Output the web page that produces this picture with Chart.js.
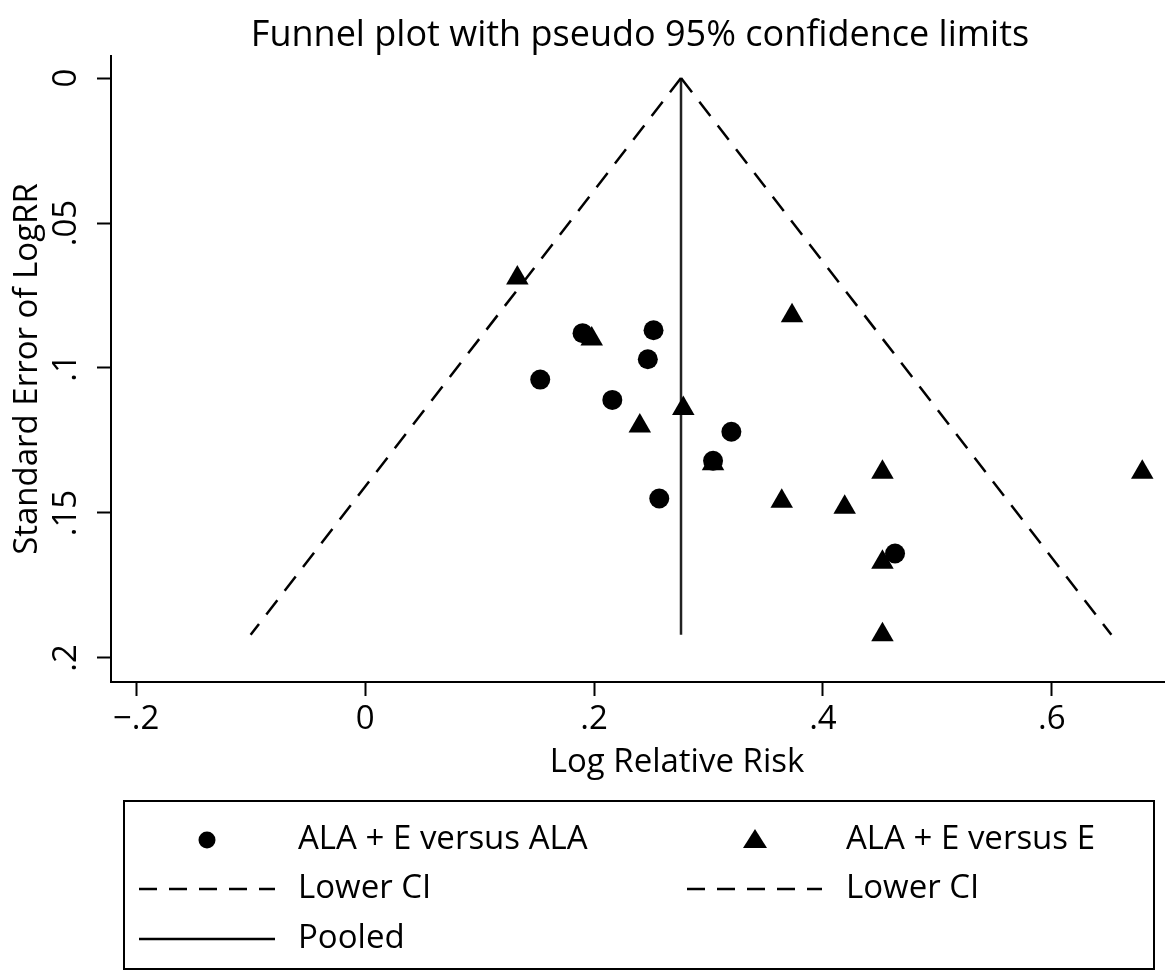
<!DOCTYPE html>
<html>
<head>
<meta charset="utf-8">
<title>Funnel plot</title>
<script src="https://cdn.jsdelivr.net/npm/chart.js@4.4.1/dist/chart.umd.min.js"></script>
<style>
  html, body { margin: 0; padding: 0; background: #fff; overflow: hidden; }
  #wrap { width: 1280px; height: 972px; }
</style>
</head>
<body>
<div id="wrap"><canvas id="funnel" width="1280" height="972"></canvas></div>
<script>
// ALA + E versus ALA (circles)
const circleLogRR = [0.190, 0.252, 0.247, 0.153, 0.216, 0.320, 0.304, 0.257, 0.463];
const circleSE    = [0.088, 0.087, 0.097, 0.104, 0.111, 0.122, 0.132, 0.145, 0.164];

// ALA + E versus E (triangles)
const triLogRR = [0.133, 0.198, 0.373, 0.278, 0.240, 0.304, 0.452, 0.679, 0.364, 0.419, 0.452, 0.452];
const triSE    = [0.069, 0.090, 0.082, 0.114, 0.120, 0.133, 0.136, 0.136, 0.146, 0.148, 0.167, 0.192];

// funnel (pseudo 95% limits) and pooled estimate
const limitSE   = [0, 0.192];
const lowerCIX  = [0.276, -0.100];
const upperCIX  = [0.276, 0.652];
const pooledX   = [0.276, 0.276];

const xTicks = [-0.2, 0, 0.2, 0.4, 0.6];
const yTicks = [0, 0.05, 0.1, 0.15, 0.2];

const FONT = "'Open Sans', 'Noto Sans', sans-serif";
const TITLE = 'Funnel plot with pseudo 95% confidence limits';

const toPoints = (xs, ys) => xs.map((x, i) => ({ x: x, y: ys[i] }));

// stata-style labels: .2, -.2, 0
const stataLabel = v => {
    if (v === 0) return '0';
    const s = String(Math.abs(v)).replace(/^0/, '');
    return (v < 0 ? '\u2212' : '') + s;
};

// graph title is centred on the whole graph, not the plot region
const graphTitle = {
    id: 'graphTitle',
    afterDraw(chart) {
        const ctx = chart.ctx;
        ctx.save();
        ctx.fillStyle = '#000';
        ctx.font = '36px ' + FONT;
        ctx.textAlign = 'center';
        ctx.textBaseline = 'middle';
        ctx.fillText(TITLE, chart.width / 2, 36);
        ctx.restore();
    }
};

// y tick labels are rotated like the original
const rotatedYTicks = {
    id: 'rotatedYTicks',
    afterDraw(chart) {
        const ctx = chart.ctx;
        const y = chart.scales.y;
        ctx.save();
        ctx.fillStyle = '#000';
        ctx.font = '33px ' + FONT;
        ctx.textAlign = 'center';
        ctx.textBaseline = 'middle';
        y.ticks.forEach(t => {
            const py = y.getPixelForValue(t.value);
            ctx.save();
            ctx.translate(67, py);
            ctx.rotate(-Math.PI / 2);
            ctx.fillText(stataLabel(t.value), 0, 0);
            ctx.restore();
        });
        ctx.restore();
    }
};

// boxed legend below the plot, two columns
const boxLegend = {
    id: 'boxLegend',
    afterDraw(chart) {
        const ctx = chart.ctx;
        ctx.save();
        ctx.strokeStyle = '#000';
        ctx.lineWidth = 2;
        ctx.strokeRect(124, 801, 1030, 168);

        ctx.fillStyle = '#000';
        ctx.font = '33px ' + FONT;
        ctx.textAlign = 'left';
        ctx.textBaseline = 'middle';

        const rows = [840, 889, 939];
        // markers
        ctx.beginPath();
        ctx.arc(207, rows[0], 8.5, 0, Math.PI * 2);
        ctx.fill();
        ctx.beginPath();
        ctx.moveTo(755, rows[0] - 11);
        ctx.lineTo(767, rows[0] + 8);
        ctx.lineTo(743, rows[0] + 8);
        ctx.closePath();
        ctx.fill();

        // line samples
        ctx.lineWidth = 2.5;
        ctx.setLineDash([18, 12]);
        ctx.beginPath();
        ctx.moveTo(139, rows[1]); ctx.lineTo(275, rows[1]);
        ctx.moveTo(687, rows[1]); ctx.lineTo(822, rows[1]);
        ctx.stroke();
        ctx.setLineDash([]);
        ctx.beginPath();
        ctx.moveTo(139, rows[2]); ctx.lineTo(275, rows[2]);
        ctx.stroke();

        ctx.fillText('ALA + E versus ALA', 298, rows[0]);
        ctx.fillText('ALA + E versus E', 846, rows[0]);
        ctx.fillText('Lower CI', 298, rows[1]);
        ctx.fillText('Lower CI', 846, rows[1]);
        ctx.fillText('Pooled', 298, rows[2]);
        ctx.restore();
    }
};

new Chart(document.getElementById('funnel'), {
    type: 'scatter',
    data: {
        datasets: [
            {
                label: 'ALA + E versus ALA',
                data: toPoints(circleLogRR, circleSE),
                pointStyle: 'circle',
                pointRadius: 10,
                backgroundColor: '#000',
                borderColor: '#000',
                borderWidth: 0,
                order: 1
            },
            {
                label: 'ALA + E versus E',
                data: toPoints(triLogRR, triSE),
                pointStyle: 'triangle',
                pointRadius: 13,
                backgroundColor: '#000',
                borderColor: '#000',
                borderWidth: 0,
                order: 1
            },
            {
                label: 'Lower CI',
                data: toPoints(lowerCIX, limitSE),
                showLine: true,
                pointRadius: 0,
                borderColor: '#000',
                borderWidth: 2.5,
                borderDash: [18, 12],
                order: 2
            },
            {
                label: 'Upper CI',
                data: toPoints(upperCIX, limitSE),
                showLine: true,
                pointRadius: 0,
                borderColor: '#000',
                borderWidth: 2.5,
                borderDash: [18, 12],
                order: 2
            },
            {
                label: 'Pooled',
                data: toPoints(pooledX, limitSE),
                showLine: true,
                pointRadius: 0,
                borderColor: '#222',
                borderWidth: 2.5,
                order: 2
            }
        ]
    },
    options: {
        responsive: false,
        animation: false,
        devicePixelRatio: 1,
        layout: { padding: { top: 56, left: 0, right: 37, bottom: 180 } },
        plugins: {
            legend: { display: false },
            tooltip: { enabled: false },
            title: { display: false }
        },
        scales: {
            x: {
                type: 'linear',
                min: -0.222,
                max: 0.767,
                afterBuildTicks: s => { s.ticks = xTicks.map(v => ({ value: v })); },
                afterFit: s => { s.height = 110; },
                grid: { display: true, drawOnChartArea: false, drawTicks: true, tickLength: 14, tickWidth: 2, tickColor: '#000' },
                border: { display: true, color: '#000', width: 2 },
                ticks: {
                    autoSkip: false,
                    maxRotation: 0,
                    padding: 4,
                    color: '#000',
                    font: { family: FONT, size: 33 },
                    callback: v => stataLabel(v)
                },
                title: {
                    display: true,
                    text: 'Log Relative Risk',
                    color: '#000',
                    font: { family: FONT, size: 33, lineHeight: 1.2 },
                    padding: { top: 0, bottom: 10 }
                }
            },
            y: {
                type: 'linear',
                reverse: true,
                min: -0.0076,
                max: 0.2083,
                afterBuildTicks: s => { s.ticks = yTicks.map(v => ({ value: v })); },
                afterFit: s => { s.width = 111; },
                grid: { display: true, drawOnChartArea: false, drawTicks: true, tickLength: 14, tickWidth: 2, tickColor: '#000' },
                border: { display: true, color: '#000', width: 2 },
                ticks: { display: false },
                title: {
                    display: true,
                    text: 'Standard Error of LogRR',
                    color: '#000',
                    font: { family: FONT, size: 33, lineHeight: 1.2 },
                    padding: { top: 8, bottom: 0 }
                }
            }
        }
    },
    plugins: [graphTitle, rotatedYTicks, boxLegend]
});
</script>
</body>
</html>
